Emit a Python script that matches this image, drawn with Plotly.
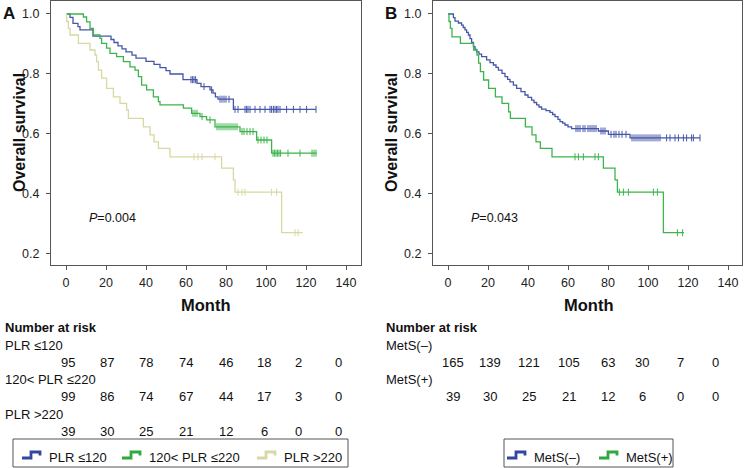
import plotly.graph_objects as go

W, H = 744, 468
FONT = "Arial, Liberation Sans, sans-serif"

# ---------------- data ----------------
# Panel A: PLR <=120
plr1_t = [2, 3.5, 6, 7, 13.5, 22.5, 24, 26, 28, 30, 33, 35, 40, 44, 47, 50, 52, 58.5,
          65.5, 67.5, 72, 73.5, 74.7, 76, 83.7]
plr1_s = [0.989, 0.969, 0.958, 0.947, 0.926, 0.915, 0.905, 0.894, 0.884, 0.874, 0.863,
          0.853, 0.842, 0.832, 0.821, 0.811, 0.800, 0.781, 0.769, 0.758, 0.747, 0.736,
          0.724, 0.716, 0.682]
plr1_cens = [62.5, 63.3, 64, 64.8, 69, 72.8, 77, 78, 79, 80, 81.5, 84.5, 86, 89.5, 90.3,
             91, 92, 94.5, 97, 99.5, 102, 102.8, 103.7, 104.5, 105.3, 106, 107, 110.3,
             113.7, 117, 120.3, 125]
plr1_end = 125

# Panel A: 120< PLR <=220
plr2_t = [8.7, 10.3, 12, 13.7, 17, 17.8, 20.3, 22, 25.3, 28.7, 32, 34.5, 36.2, 37.8, 40.3,
          43.7, 46.2, 47, 58.7, 62.8, 67, 70.3, 74.5, 87, 95.3, 102.8]
plr2_s = [0.990, 0.974, 0.952, 0.930, 0.919, 0.902, 0.886, 0.869, 0.858, 0.841, 0.824,
          0.813, 0.791, 0.763, 0.747, 0.724, 0.708, 0.697, 0.686, 0.669, 0.658, 0.647,
          0.624, 0.608, 0.580, 0.536]
plr2_cens = [63.5, 64.5, 65.5, 68, 72, 75.5, 76.5, 77.5, 78.5, 79.5, 80.5, 81.5, 82.5,
             83.5, 84.5, 85.5, 88, 89, 90.5, 92, 93.5, 96, 97.5, 99, 100.5, 103.5, 104.3,
             105, 105.8, 106.5, 107.3, 111, 117, 123, 124, 125]
plr2_end = 125.3

# Panel A: PLR >220
plr3_t = [0.3, 1.2, 2, 6.2, 12, 14.5, 15.3, 16.2, 17.8, 20.3, 23.7, 27, 30.3, 31.2, 38.7,
          42, 44, 46.2, 52, 77.8, 83.7, 84.5, 107.8]
plr3_s = [0.975, 0.952, 0.930, 0.902, 0.880, 0.863, 0.841, 0.813, 0.786, 0.752, 0.724,
          0.702, 0.680, 0.652, 0.624, 0.597, 0.574, 0.552, 0.524, 0.486, 0.447, 0.406,
          0.271]
plr3_cens = [64, 66, 68, 74.5, 86, 88, 89.5, 102.8, 105.3, 114.5, 116]
plr3_end = 118.3

# Panel B: MetS(-)
metsn_t = [2.7, 3.5, 5.2, 6.8, 7.6, 8.5, 9.3, 10.2, 11, 11.8, 12.7, 13.5, 14.3, 15.5, 16.8,
           19.3, 21, 22.7, 24, 25.2, 27, 28.5, 29.8, 31, 32.7, 34.3, 36.5, 38.5, 40, 41.8,
           43, 44.3, 45.5, 46.8, 49, 51, 52.3, 53.5, 55, 56, 57.3, 58.5, 60, 61.8, 75.2,
           80.2, 91]
metsn_s = [0.988, 0.976, 0.970, 0.963, 0.955, 0.947, 0.939, 0.930, 0.918, 0.905, 0.891,
           0.882, 0.874, 0.866, 0.858, 0.847, 0.838, 0.830, 0.822, 0.813, 0.802, 0.791,
           0.782, 0.774, 0.763, 0.752, 0.741, 0.730, 0.722, 0.713, 0.705, 0.697, 0.690,
           0.683, 0.678, 0.672, 0.665, 0.658, 0.649, 0.641, 0.636, 0.630, 0.624, 0.618,
           0.610, 0.599, 0.587]
metsn_cens = [64, 65, 66, 67.5, 68.5, 70, 71, 72, 73, 74, 76.5, 77.5, 78.5, 81.5, 83, 84,
              85.5, 87, 89, 92, 93, 94, 95, 96, 97, 98, 99, 100, 101, 102, 103, 104, 105,
              106, 109.3, 111, 113.5, 115.2, 117.7, 119.3, 121.8, 122.7, 126]
metsn_end = 126

# Panel B: MetS(+)
metsp_t = [0.5, 1.2, 2, 6.2, 12.8, 14.5, 15.3, 16.2, 17.8, 20.3, 23.7, 27, 30.3, 31.2,
           38.7, 42, 44, 46.2, 52, 77.7, 83.5, 84.7, 107.7]
metsp_s = [0.975, 0.952, 0.924, 0.902, 0.880, 0.863, 0.836, 0.808, 0.780, 0.752, 0.724,
           0.702, 0.674, 0.652, 0.624, 0.597, 0.574, 0.552, 0.524, 0.486, 0.447, 0.406,
           0.271]
metsp_cens = [63.5, 65.2, 67.7, 73.5, 75.2, 85.7, 87.7, 90.2, 102.7, 104.7, 114.7, 117.3]
metsp_end = 118

# Numbers at risk
risk_times = [0, 20, 40, 60, 80, 100, 120, 140]
plr1_risk = [95, 87, 78, 74, 46, 18, 2, 0]
plr2_risk = [99, 86, 74, 67, 44, 17, 3, 0]
plr3_risk = [39, 30, 25, 21, 12, 6, 0, 0]
metsn_risk = [165, 139, 121, 105, 63, 30, 7, 0]
metsp_risk = [39, 30, 25, 21, 12, 6, 0, 0]

names_a = ["PLR ≤120", "120< PLR ≤220", "PLR >220"]
names_b = ["MetS(–)", "MetS(+)"]

BLUE = "#4656a8"
GREEN = "#3cb44b"
KHAKI = "#d8d8a2"
LEG_BLUE = "#34479e"
LEG_GREEN = "#2fa83e"
LEG_KHAKI = "#d9d7a8"

# ---------------- helpers ----------------
def px(x):
    return x / W

def py(y):
    return 1 - y / H

def step_xy(t, s, end):
    return [0] + list(t) + [end], [1.0] + list(s) + [s[-1]]

def surv_at(t, s, c):
    v = 1.0
    for ti, si in zip(t, s):
        if ti <= c:
            v = si
    return v

fig = go.Figure()

def add_curve(t, s, cens, end, color, name, xa, ya):
    x, y = step_xy(t, s, end)
    fig.add_trace(go.Scatter(x=x, y=y, mode="lines", line=dict(color=color, width=1.3, shape="hv"),
                             name=name, xaxis=xa, yaxis=ya, showlegend=False))
    fig.add_trace(go.Scatter(x=cens, y=[surv_at(t, s, c) for c in cens], mode="markers",
                             marker=dict(symbol="line-ns-open", size=5, color=color,
                                         line=dict(color=color, width=1)),
                             showlegend=False, xaxis=xa, yaxis=ya, hoverinfo="skip"))

add_curve(plr1_t, plr1_s, plr1_cens, plr1_end, BLUE, names_a[0], "x", "y")
add_curve(plr2_t, plr2_s, plr2_cens, plr2_end, GREEN, names_a[1], "x", "y")
add_curve(plr3_t, plr3_s, plr3_cens, plr3_end, KHAKI, names_a[2], "x", "y")
add_curve(metsn_t, metsn_s, metsn_cens, metsn_end, BLUE, names_b[0], "x2", "y2")
add_curve(metsp_t, metsp_s, metsp_cens, metsp_end, GREEN, names_b[1], "x2", "y2")

axis_common = dict(showline=True, mirror=True, linecolor="#555555", linewidth=1.3,
                   ticks="outside", ticklen=4, tickcolor="#555555", showgrid=False,
                   zeroline=False, tickfont=dict(family=FONT, size=12.5, color="#222222"))
yt = [0.2, 0.4, 0.6, 0.8, 1.0]
fig.update_layout(
    width=W, height=H, margin=dict(l=0, r=0, t=0, b=0),
    paper_bgcolor="white", plot_bgcolor="white",
    font=dict(family=FONT, color="#111111"),
    showlegend=False,
    xaxis=dict(domain=[px(51), px(361)], range=[-7.5, 147.5], tickvals=risk_times,
               anchor="y", ticklabelstandoff=2, **axis_common),
    yaxis=dict(domain=[py(265), py(1)], range=[0.1633, 1.0433], tickvals=yt,
               tickformat=".1f", anchor="x", ticklabelstandoff=4, **axis_common),
    xaxis2=dict(domain=[px(433), px(742)], range=[-7.5, 147], tickvals=risk_times,
                anchor="y2", ticklabelstandoff=2, **axis_common),
    yaxis2=dict(domain=[py(265), py(1)], range=[0.1633, 1.0433], tickvals=yt,
                tickformat=".1f", anchor="x2", ticklabelstandoff=4, **axis_common),
)

ann = []
def text(x, y, s, size=13, bold=False, anchor="left", angle=0):
    if bold:
        s = "<b>" + s + "</b>"
    ann.append(dict(x=px(x), y=py(y), xref="paper", yref="paper", text=s, showarrow=False,
                    xanchor=anchor, yanchor="middle", textangle=angle,
                    font=dict(family=FONT, size=size, color="#111111")))

# panel letters / titles
text(9, 13, "A", 17, True, "center")
text(391, 13, "B", 17, True, "center")
text(19, 133, "Overall survival", 16, True, "center", -90)
text(391, 133, "Overall survival", 16, True, "center", -90)
text(206, 305, "Month", 16.5, True, "center")
text(588, 305, "Month", 16.5, True, "center")
text(87, 218, "<i>P</i>=0.004", 12.5)
text(469, 218, "<i>P</i>=0.043", 12.5)

# risk tables
cols_a = [68, 107, 146, 186, 226, 264, 298, 338]
cols_b = [453, 490, 529, 569, 608, 642, 680, 715]
text(3, 327, "Number at risk", 13, True)
text(384, 327, "Number at risk", 13, True)
rows_a = [(names_a[0], plr1_risk, 345), (names_a[1], plr2_risk, 379), (names_a[2], plr3_risk, 414)]
for lab, vals, yy in rows_a:
    text(3, yy, lab, 13)
    for cx, v in zip(cols_a, vals):
        text(cx, yy + 17.5, str(v), 13, False, "center")
rows_b = [(names_b[0], metsn_risk, 345), (names_b[1], metsp_risk, 379)]
for lab, vals, yy in rows_b:
    text(384, yy, lab, 13)
    for cx, v in zip(cols_b, vals):
        text(cx, yy + 17.5, str(v), 13, False, "center")

# ---------------- legends (boxes with step glyphs) ----------------
shapes = []
def legend_box(x0, x1, y0=439, y1=467):
    shapes.append(dict(type="rect", xref="paper", yref="paper", x0=px(x0), x1=px(x1),
                       y0=py(y1), y1=py(y0), line=dict(color="#555555", width=1),
                       fillcolor="rgba(0,0,0,0)"))

def legend_item(x, label, color):
    yl, yh = 458, 452
    path = "M {:.5f},{:.5f} L {:.5f},{:.5f} L {:.5f},{:.5f} L {:.5f},{:.5f} L {:.5f},{:.5f}".format(
        px(x), py(yl), px(x + 9), py(yl), px(x + 9), py(yh), px(x + 18), py(yh), px(x + 18), py(yh + 3.5))
    shapes.append(dict(type="path", xref="paper", yref="paper", path=path,
                       line=dict(color=color, width=2.8)))
    text(x + 25, 457, label, 13)

legend_box(13, 348)
legend_item(22, names_a[0], LEG_BLUE)
legend_item(122, names_a[1], LEG_GREEN)
legend_item(257, names_a[2], LEG_KHAKI)
legend_box(504, 673)
legend_item(507, names_b[0], LEG_BLUE)
legend_item(599, names_b[1], LEG_GREEN)

fig.update_layout(annotations=ann, shapes=shapes)
fig.write_html("out.html", config={"displayModeBar": False},
               post_script="document.body.style.margin='0';document.body.style.overflow='hidden';")
